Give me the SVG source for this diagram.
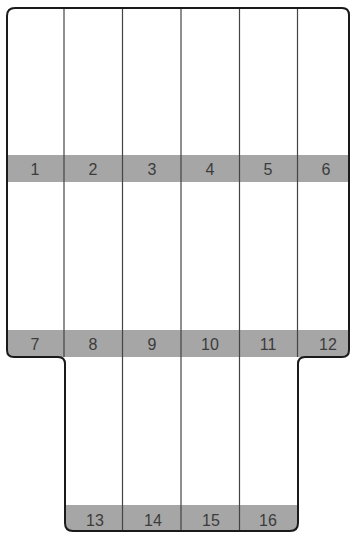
<svg xmlns="http://www.w3.org/2000/svg" width="353" height="533" viewBox="0 0 353 533">
<style>
.band{fill:#a6a6a6}
.col{stroke:#444;stroke-width:1.2;fill:none}
.outline{fill:none;stroke:#1a1a1a;stroke-width:2}
.lbl{font-family:"Liberation Sans",Arial,sans-serif;font-size:16px;fill:#3c3c3c;text-anchor:middle}
</style>
<defs>
<clipPath id="shape">
<path d="M7,16 Q7,8 15,8 L342,8 Q349,8 349,15 L349,350 Q349,357 342,357 L305,357 Q298,357 298,364 L298,523 Q298,531 290,531 L73,531 Q65,531 65,523 L65,364 Q65,357 58,357 L14,357 Q7,357 7,350 Z"/>
</clipPath>
</defs>
<rect width="353" height="533" fill="#fff"/>
<g id="bands" clip-path="url(#shape)">
<rect class="band" x="7" y="155" width="342" height="27"/>
<rect class="band" x="7" y="330" width="342" height="27"/>
<rect class="band" x="65" y="505" width="233" height="27"/>
</g>
<g id="columns">
<line class="col" x1="64" y1="8" x2="64" y2="357"/>
<line class="col" x1="122.5" y1="8" x2="122.5" y2="531"/>
<line class="col" x1="181" y1="8" x2="181" y2="531"/>
<line class="col" x1="239.5" y1="8" x2="239.5" y2="531"/>
<line class="col" x1="297.5" y1="8" x2="297.5" y2="357"/>
</g>
<path id="outline" class="outline" d="M7,16 Q7,8 15,8 L342,8 Q349,8 349,15 L349,350 Q349,357 342,357 L305,357 Q298,357 298,364 L298,523 Q298,531 290,531 L73,531 Q65,531 65,523 L65,364 Q65,357 58,357 L14,357 Q7,357 7,350 Z"/>
<g id="connectors"></g>
<g id="cell1"><text class="lbl" x="35" y="175">1</text></g>
<g id="cell2"><text class="lbl" x="93" y="175">2</text></g>
<g id="cell3"><text class="lbl" x="152" y="175">3</text></g>
<g id="cell4"><text class="lbl" x="210" y="175">4</text></g>
<g id="cell5"><text class="lbl" x="268" y="175">5</text></g>
<g id="cell6"><text class="lbl" x="326" y="175">6</text></g>
<g id="cell7"><text class="lbl" x="35" y="350">7</text></g>
<g id="cell8"><text class="lbl" x="93" y="350">8</text></g>
<g id="cell9"><text class="lbl" x="152" y="350">9</text></g>
<g id="cell10"><text class="lbl" x="210" y="350">10</text></g>
<g id="cell11"><text class="lbl" x="268" y="350">11</text></g>
<g id="cell12"><text class="lbl" x="328" y="350">12</text></g>
<g id="cell13"><text class="lbl" x="95" y="526">13</text></g>
<g id="cell14"><text class="lbl" x="153" y="526">14</text></g>
<g id="cell15"><text class="lbl" x="211" y="526">15</text></g>
<g id="cell16"><text class="lbl" x="268" y="526">16</text></g>
</svg>
